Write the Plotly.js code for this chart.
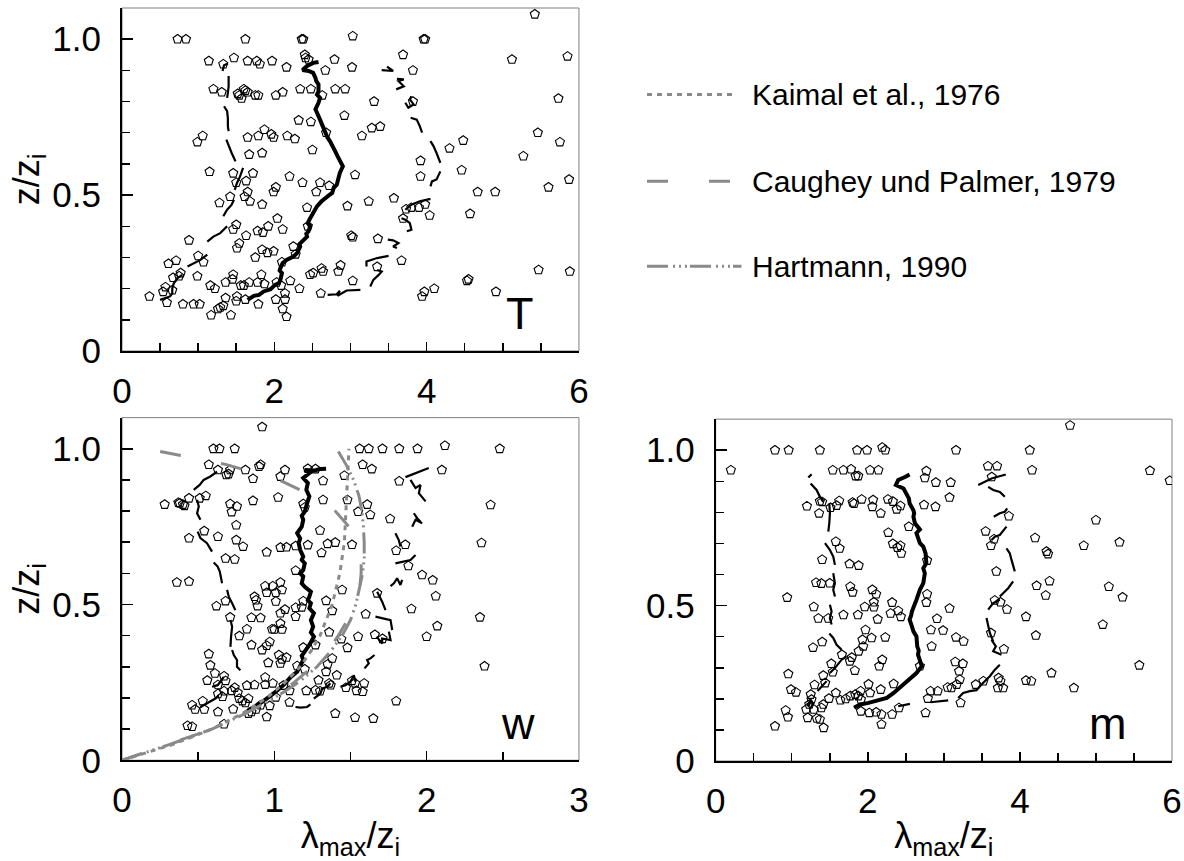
<!DOCTYPE html>
<html>
<head>
<meta charset="utf-8">
<script src="https://cdn.plot.ly/plotly-3.0.1.min.js"></script>
<style>
  html, body { margin: 0; padding: 0; background: #ffffff; }
  #chart { width: 1184px; height: 861px; }
</style>
</head>
<body>
<div id="chart"></div>
<script>
// ---------- Spectral peak wavelength lambda_max / z_i versus height z / z_i ----------

// Axis tick positions and labels (labelled major ticks, unlabelled minor ticks)
const zMajor = [0, 0.5, 1.0];
const zMajorText = ['0', '0.5', '1.0'];
const zMinor = [0.1, 0.2, 0.3, 0.4, 0.6, 0.7, 0.8, 0.9];
const lambdaMajor6 = [0, 2, 4, 6];
const lambdaMajorText6 = ['0', '2', '4', '6'];
const lambdaMinor6 = [0.5, 1, 1.5, 2.5, 3, 3.5, 4.5, 5, 5.5];
const lambdaMajor3 = [0, 1, 2, 3];
const lambdaMajorText3 = ['0', '1', '2', '3'];
const lambdaMinor3 = [0.5, 1.5, 2.5];

// ---------- Temperature (T) ----------
const tPoints = [
  [0.73,1.00],[0.84,1.00],[1.62,1.00],[2.36,1.00],[2.38,1.00],[3.96,1.00],[3.98,1.00],[3.03,1.01],[5.42,1.08],
  [1.14,0.93],[1.33,0.92],[1.47,0.94],[1.65,0.93],[1.77,0.93],[1.81,0.92],[1.97,0.93],[2.16,0.91],[2.40,0.95],
  [2.41,0.94],[2.45,0.935],[2.67,0.90],[2.79,0.935],[3.02,0.91],[3.69,0.95],[3.82,0.90],[5.12,0.935],[5.85,0.945],
  [1.20,0.84],[1.31,0.83],[1.52,0.825],[1.54,0.82],[1.57,0.81],[1.60,0.84],[1.62,0.835],[1.65,0.83],[1.75,0.82],
  [1.79,0.82],[2.02,0.82],[2.11,0.83],[2.34,0.84],[2.48,0.84],[2.63,0.82],[2.80,0.84],[2.93,0.84],[3.31,0.80],
  [3.82,0.80],[5.73,0.81],[2.32,0.74],[2.48,0.735],[2.92,0.755],[3.15,0.69],[3.28,0.715],[3.39,0.72],[5.46,0.70],
  [5.75,0.67],[0.99,0.67],[1.06,0.69],[1.65,0.685],[1.79,0.69],[1.87,0.71],[1.96,0.695],[1.99,0.685],[2.17,0.69],
  [2.27,0.68],[2.68,0.70],[4.48,0.675],[4.30,0.65],[1.67,0.63],[1.84,0.635],[2.50,0.645],[5.27,0.625],[3.92,0.61],
  [1.15,0.575],[1.46,0.57],[1.50,0.54],[1.63,0.545],[1.72,0.57],[2.20,0.56],[3.06,0.565],[3.92,0.56],[4.46,0.58],
  [5.87,0.55],[5.60,0.525],[2.37,0.54],[2.60,0.54],[2.72,0.53],[2.55,0.51],[1.99,0.51],[2.02,0.525],[1.65,0.51],
  [1.61,0.495],[1.68,0.48],[1.42,0.495],[1.28,0.475],[1.84,0.47],[2.43,0.46],[2.96,0.465],[3.24,0.48],[3.57,0.49],
  [3.73,0.455],[3.80,0.46],[3.90,0.46],[3.98,0.47],[4.04,0.435],[4.67,0.51],[4.90,0.51],[4.57,0.44],[2.04,0.425],
  [1.50,0.405],[1.46,0.39],[1.78,0.385],[1.85,0.38],[1.92,0.40],[2.11,0.39],[2.44,0.40],[1.63,0.37],[1.54,0.345],
  [1.51,0.33],[0.88,0.355],[2.25,0.335],[3.01,0.37],[3.03,0.365],[3.36,0.36],[3.69,0.425],[1.84,0.325],[1.91,0.315],
  [1.99,0.32],[1.75,0.30],[1.00,0.305],[1.07,0.285],[0.71,0.29],[0.61,0.28],[3.67,0.29],[2.10,0.285],[2.28,0.31],
  [0.99,0.24],[0.77,0.25],[0.75,0.24],[0.67,0.235],[1.46,0.245],[1.45,0.23],[1.36,0.22],[1.16,0.21],[1.22,0.20],
  [1.56,0.21],[1.60,0.21],[1.67,0.22],[1.78,0.22],[1.87,0.215],[1.83,0.245],[2.09,0.21],[2.03,0.22],[2.21,0.225],
  [2.33,0.20],[2.47,0.245],[2.51,0.25],[2.62,0.265],[2.64,0.255],[2.84,0.255],[2.87,0.275],[3.03,0.225],[3.35,0.27],
  [5.47,0.26],[5.88,0.255],[4.53,0.225],[4.55,0.23],[0.57,0.205],[0.54,0.19],[0.66,0.195],[4.10,0.20],[3.97,0.19],
  [0.36,0.175],[0.59,0.155],[0.80,0.15],[0.94,0.15],[1.02,0.15],[1.36,0.17],[1.50,0.16],[1.51,0.175],[1.62,0.165],
  [1.79,0.15],[2.02,0.165],[2.14,0.165],[2.14,0.185],[2.11,0.135],[2.16,0.11],[1.17,0.115],[1.26,0.135],[1.29,0.14],
  [1.33,0.145],[1.43,0.115],[2.61,0.185],[3.94,0.175],[4.91,0.19]
];
const tMedian = [
  [1.65,0.164],[1.73,0.177],[1.80,0.180],[1.86,0.191],[1.95,0.198],[2.01,0.212],[2.06,0.218],[2.08,0.228],[2.10,0.250],
  [2.07,0.258],[2.08,0.266],[2.11,0.282],[2.16,0.292],[2.25,0.303],[2.30,0.314],[2.34,0.335],[2.33,0.343],[2.36,0.351],
  [2.43,0.367],[2.42,0.376],[2.45,0.384],[2.47,0.400],[2.44,0.410],[2.46,0.421],[2.51,0.442],[2.54,0.452],[2.56,0.464],
  [2.62,0.480],[2.69,0.496],[2.72,0.500],[2.76,0.507],[2.78,0.523],[2.82,0.533],[2.84,0.550],[2.86,0.571],[2.90,0.592],
  [2.86,0.608],[2.83,0.625],[2.80,0.640],[2.78,0.651],[2.73,0.673],[2.70,0.684],[2.68,0.694],[2.65,0.716],[2.62,0.730],
  [2.60,0.742],[2.57,0.758],[2.54,0.775],[2.58,0.796],[2.60,0.812],[2.56,0.822],[2.58,0.833],[2.58,0.855],[2.55,0.866],
  [2.54,0.876],[2.51,0.892],[2.45,0.898],[2.37,0.901],[2.43,0.914],[2.51,0.924],[2.58,0.927]
];
const tLower = [
  [[0.50,0.164],[0.57,0.171],[0.63,0.175],[0.66,0.185],[0.66,0.201],[0.68,0.217],[0.73,0.234],[0.79,0.244]],
  [[0.86,0.271],[0.94,0.282],[1.03,0.292],[1.12,0.309]],
  [[1.12,0.351],[1.20,0.367],[1.29,0.378],[1.38,0.400]],
  [[1.33,0.432],[1.38,0.453],[1.44,0.469],[1.47,0.485]],
  [[1.48,0.517],[1.51,0.539],[1.55,0.560],[1.59,0.587]],
  [[1.37,0.678],[1.40,0.657],[1.44,0.635],[1.47,0.619],[1.49,0.608]],
  [[1.34,0.785],[1.38,0.769],[1.39,0.748],[1.39,0.721],[1.40,0.705]],
  [[1.40,0.882],[1.40,0.849],[1.39,0.828],[1.38,0.812]],
  [[1.32,0.898],[1.34,0.916],[1.39,0.922]]
];
const tUpper = [
  [[2.70,0.180],[2.82,0.182],[2.86,0.193],[2.83,0.177],[2.95,0.194],[3.13,0.196]],
  [[3.26,0.207],[3.30,0.228],[3.37,0.244],[3.41,0.255],[3.35,0.260]],
  [[3.21,0.271],[3.21,0.287],[3.35,0.298],[3.50,0.305]],
  [[3.49,0.357],[3.56,0.355],[3.63,0.346],[3.56,0.335],[3.61,0.330]],
  [[3.67,0.426],[3.72,0.421],[3.78,0.410],[3.80,0.389],[3.74,0.384]],
  [[3.72,0.453],[3.80,0.469],[3.91,0.480],[4.05,0.488]],
  [[4.05,0.528],[4.07,0.544],[4.13,0.550],[4.18,0.576]],
  [[4.05,0.673],[4.09,0.657],[4.13,0.635],[4.18,0.603]],
  [[3.79,0.748],[3.87,0.742],[3.91,0.721],[3.94,0.700]],
  [[3.72,0.796],[3.76,0.780],[3.83,0.791],[3.78,0.807],[3.80,0.817]],
  [[3.60,0.839],[3.70,0.849],[3.63,0.866],[3.70,0.871],[3.61,0.873]],
  [[3.41,0.901],[3.56,0.898],[3.48,0.912]]
];

// ---------- Vertical velocity (w) ----------
const wPoints = [
  [0.92,1.07],[0.60,1.00],[0.64,1.00],[0.74,1.00],[1.56,1.00],[1.62,1.00],[1.71,1.00],[1.82,1.00],[1.94,1.00],
  [2.48,1.00],[2.12,1.01],
  [0.57,0.949],[0.63,0.932],[0.685,0.916],[0.70,0.919],[0.71,0.932],[0.81,0.932],[0.86,0.904],[0.90,0.943],
  [0.91,0.949],[1.07,0.932],[1.04,0.911],[1.22,0.936],[1.27,0.935],[1.32,0.897],[1.46,0.914],[1.58,0.949],
  [1.64,0.935],[1.82,0.896],[2.10,0.932],
  [0.28,0.821],[0.37,0.827],[0.38,0.825],[0.40,0.821],[0.41,0.817],[0.44,0.841],[0.51,0.841],[0.55,0.849],
  [0.71,0.823],[0.755,0.815],[0.72,0.797],[0.86,0.833],[1.025,0.844],[1.19,0.823],[1.20,0.812],[1.32,0.836],
  [1.48,0.836],[1.55,0.798],[1.61,0.821],[1.63,0.788],[1.76,0.775],[2.42,0.820],
  [0.75,0.755],[0.54,0.736],[0.63,0.718],[0.44,0.713],[0.75,0.707],[0.795,0.686],[1.04,0.683],[1.08,0.684],
  [1.14,0.688],[1.22,0.691],[0.95,0.668],[1.30,0.738],[1.35,0.695],[1.40,0.699],[1.31,0.666],[1.51,0.692],
  [1.80,0.673],[1.86,0.692],[2.36,0.698],
  [0.68,0.648],[0.74,0.645],[1.14,0.609],[1.445,0.547],[1.97,0.595],[2.04,0.578],[1.88,0.624],[0.36,0.571],
  [0.44,0.574],[0.94,0.559],[0.99,0.559],[1.04,0.571],[1.05,0.547],[0.95,0.538],[1.01,0.538],[0.87,0.525],
  [0.88,0.514],[1.675,0.536],
  [0.62,0.495],[0.68,0.511],[0.89,0.495],[1.01,0.510],[1.07,0.484],[1.14,0.490],[1.19,0.511],[1.18,0.491],
  [1.14,0.461],[1.34,0.512],[1.38,0.480],[1.90,0.486],[2.06,0.527],[2.35,0.459],[0.71,0.459],[0.85,0.458],
  [0.91,0.457],[1.04,0.472],[1.60,0.469],
  [0.82,0.421],[0.985,0.421],[1.00,0.420],[1.04,0.439],[1.05,0.420],[0.77,0.399],[1.36,0.411],[1.55,0.397],
  [1.66,0.403],[1.71,0.390],[2.07,0.431],[2.00,0.397],
  [0.85,0.370],[0.97,0.380],[0.95,0.368],[0.92,0.354],[1.03,0.338],[1.05,0.324],[1.08,0.330],[1.04,0.311],
  [0.96,0.313],[0.57,0.341],[0.58,0.305],[1.19,0.362],[1.27,0.370],[1.44,0.389],[1.48,0.361],[1.38,0.327],
  [1.35,0.308],[1.15,0.303],[2.38,0.302],
  [0.61,0.279],[0.56,0.256],[0.67,0.270],[0.68,0.255],[0.63,0.242],[0.74,0.233],[0.76,0.217],[0.82,0.240],
  [0.87,0.242],[0.94,0.266],[0.94,0.243],[0.99,0.247],[1.06,0.240],[1.10,0.223],[1.20,0.292],[1.34,0.284],
  [1.41,0.273],[1.29,0.257],[1.21,0.223],[1.27,0.225],[1.30,0.222],[1.36,0.247],[1.37,0.241],[1.47,0.233],
  [1.51,0.255],[1.53,0.247],[1.59,0.247],[1.54,0.223],[1.58,0.220],[0.77,0.198],[0.79,0.190],[0.81,0.184],
  [0.83,0.198],[0.72,0.223],[0.67,0.222],[0.63,0.213],[0.66,0.204],
  [0.46,0.177],[0.48,0.163],[0.53,0.190],[0.54,0.163],[0.63,0.155],[0.73,0.164],[0.83,0.150],[0.85,0.155],
  [0.88,0.163],[0.91,0.177],[0.97,0.175],[1.01,0.202],[1.10,0.186],[0.95,0.139],[1.40,0.150],[1.53,0.137],
  [1.65,0.134],[1.80,0.190],[0.43,0.111],[0.46,0.108],[0.67,0.116]
];
const wMedian = [
  [0.83,0.161],[0.89,0.177],[0.95,0.198],[0.98,0.208],[1.01,0.220],[1.06,0.241],[1.11,0.268],[1.15,0.284],[1.17,0.300],
  [1.19,0.322],[1.18,0.335],[1.20,0.348],[1.23,0.370],[1.26,0.397],[1.24,0.410],[1.255,0.429],[1.24,0.450],[1.26,0.472],
  [1.23,0.488],[1.24,0.504],[1.22,0.514],[1.23,0.525],[1.24,0.541],[1.20,0.557],[1.18,0.568],[1.19,0.590],[1.17,0.600],
  [1.19,0.611],[1.20,0.632],[1.18,0.643],[1.19,0.654],[1.17,0.675],[1.16,0.697],[1.17,0.712],[1.15,0.729],[1.18,0.750],
  [1.19,0.772],[1.18,0.785],[1.20,0.798],[1.215,0.825],[1.23,0.847],[1.21,0.868],[1.22,0.890],[1.19,0.906],[1.23,0.922],
  [1.20,0.932],[1.26,0.930],[1.30,0.935],[1.34,0.936]
];
const wLower = [
  [[0.515,0.171],[0.558,0.182],[0.613,0.198],[0.635,0.209]],
  [[0.591,0.236],[0.628,0.241],[0.646,0.252],[0.668,0.268]],
  [[0.723,0.354],[0.734,0.338],[0.755,0.322],[0.755,0.300],[0.777,0.289]],
  [[0.712,0.450],[0.723,0.429],[0.716,0.397],[0.712,0.364]],
  [[0.690,0.547],[0.701,0.525],[0.723,0.504],[0.744,0.482]],
  [[0.602,0.635],[0.628,0.622],[0.642,0.606],[0.657,0.568]],
  [[0.497,0.734],[0.515,0.713],[0.558,0.697],[0.591,0.670]],
  [[0.493,0.836],[0.504,0.815],[0.493,0.793],[0.515,0.772]],
  [[0.471,0.868],[0.510,0.884],[0.536,0.900],[0.580,0.911],[0.624,0.927]]
];
const wUpper = [
  [[1.139,0.171],[1.171,0.169],[1.215,0.171],[1.237,0.179]],
  [[1.259,0.198],[1.303,0.214],[1.314,0.230],[1.347,0.236],[1.368,0.247]],
  [[1.434,0.236],[1.467,0.241],[1.500,0.252],[1.522,0.273],[1.533,0.252]],
  [[1.592,0.295],[1.620,0.311],[1.609,0.322],[1.631,0.327],[1.658,0.338]],
  [[1.671,0.397],[1.708,0.375],[1.708,0.391],[1.763,0.386],[1.752,0.413]],
  [[1.664,0.461],[1.719,0.456],[1.763,0.450],[1.774,0.418]],
  [[1.675,0.541],[1.693,0.525],[1.708,0.509],[1.730,0.482]],
  [[1.763,0.559],[1.785,0.568],[1.806,0.584],[1.828,0.563],[1.839,0.579]],
  [[1.795,0.632],[1.839,0.638],[1.894,0.643],[1.927,0.659]],
  [[1.795,0.729],[1.817,0.707],[1.828,0.686]],
  [[1.905,0.750],[1.927,0.772],[1.971,0.761]],
  [[1.916,0.793],[1.938,0.777],[1.960,0.766]],
  [[1.861,0.909],[1.938,0.924],[2.014,0.938]],
  [[1.894,0.900],[1.927,0.874],[1.960,0.884],[1.949,0.857],[1.993,0.831]]
];

// Reference profiles for w
const kaimal = [
  [0,0],[0.33,0.05],[0.59,0.10],[0.79,0.15],[0.95,0.20],[1.07,0.25],[1.17,0.30],[1.24,0.35],[1.30,0.40],
  [1.38,0.50],[1.43,0.60],[1.46,0.70],[1.47,0.80],[1.48,0.90],[1.49,1.00]
];
const caughey = [
  [0,0],[0.30,0.05],[0.59,0.10],[0.81,0.15],[0.99,0.20],[1.13,0.25],[1.25,0.30],[1.35,0.35],[1.42,0.40],
  [1.48,0.45],[1.53,0.50],[1.56,0.55],[1.57,0.60],[1.57,0.65],[1.55,0.70],[1.49,0.75],[1.40,0.80],
  [1.25,0.85],[1.03,0.90],[0.68,0.95],[0.16,1.00]
];
const hartmann = [
  [0,0],[0.31,0.05],[0.59,0.10],[0.81,0.15],[1.00,0.20],[1.16,0.25],[1.28,0.30],[1.37,0.35],[1.445,0.40],
  [1.50,0.45],[1.535,0.50],[1.56,0.55],[1.58,0.60],[1.59,0.65],[1.59,0.70],[1.585,0.75],[1.575,0.80],
  [1.555,0.85],[1.52,0.90],[1.47,0.95],[1.41,1.00]
];
const refNames = ['Kaimal et al., 1976', 'Caughey und Palmer, 1979', 'Hartmann, 1990'];

// ---------- Horizontal wind (m) ----------
const mPoints = [
  [4.66,1.08],[0.78,1.00],[0.96,1.00],[1.37,1.00],[1.86,1.00],[1.99,1.00],[2.19,1.009],[2.23,1.00],[3.16,1.00],
  [4.13,1.00],
  [0.20,0.936],[1.54,0.936],[1.68,0.936],[1.78,0.939],[1.84,0.917],[1.875,0.917],[2.03,0.936],[2.14,0.936],
  [2.77,0.933],[2.75,0.911],[2.895,0.896],[3.09,0.896],[3.58,0.949],[3.70,0.949],[3.63,0.914],[4.16,0.936],
  [5.71,0.934],[5.97,0.902],
  [1.20,0.820],[1.37,0.836],[1.40,0.834],[1.36,0.797],[1.51,0.815],[1.59,0.822],[1.625,0.837],[1.80,0.832],
  [1.82,0.828],[1.92,0.842],[2.07,0.840],[2.06,0.818],[2.17,0.797],[2.265,0.842],[2.33,0.835],[2.38,0.810],
  [2.43,0.821],[2.74,0.824],[2.89,0.818],[3.075,0.848],[3.855,0.788],[5.00,0.775],
  [2.54,0.754],[2.27,0.735],[1.58,0.706],[1.63,0.684],[2.33,0.699],[2.39,0.687],[2.43,0.693],[2.44,0.668],
  [3.55,0.739],[3.66,0.714],[3.62,0.693],[4.20,0.718],[4.35,0.674],[4.37,0.666],[4.84,0.693],[5.31,0.704],
  [1.40,0.648],[1.76,0.634],[1.88,0.629],[2.78,0.645],
  [1.32,0.574],[1.39,0.571],[1.50,0.572],[1.77,0.561],[1.80,0.543],[2.06,0.551],[2.11,0.537],[2.08,0.511],
  [2.32,0.510],[2.78,0.537],[2.77,0.510],[3.69,0.610],[4.22,0.564],[4.39,0.579],[4.34,0.533],[5.17,0.561],
  [5.35,0.527],[0.94,0.526],[1.29,0.496],[1.35,0.459],[1.48,0.459],[1.68,0.470],[1.87,0.470],[1.96,0.496],
  [2.08,0.495],[2.13,0.456],[2.30,0.475],[2.40,0.483],[2.435,0.464],[2.91,0.458],[3.075,0.491],[3.67,0.517],
  [3.745,0.511],[3.83,0.488],[4.08,0.464],[5.09,0.439],
  [1.97,0.422],[2.05,0.396],[2.23,0.398],[1.93,0.390],[1.94,0.369],[1.88,0.353],[1.40,0.383],[1.28,0.365],
  [2.83,0.422],[2.99,0.420],[3.16,0.398],[3.26,0.385],[2.84,0.369],[3.62,0.412],[3.79,0.360],[4.21,0.404],
  [1.66,0.342],[1.79,0.333],[1.765,0.321],[1.52,0.313],[1.54,0.286],[1.83,0.291],[2.19,0.326],[2.15,0.305],
  [3.15,0.319],[3.25,0.313],[3.20,0.289],[2.685,0.305],[5.57,0.308],[4.415,0.283],[0.955,0.280],
  [1.30,0.245],[1.415,0.275],[1.44,0.251],[0.99,0.230],[1.056,0.221],[1.25,0.214],[1.26,0.198],[1.58,0.219],
  [1.49,0.201],[1.64,0.196],[1.71,0.200],[1.77,0.209],[1.835,0.214],[1.875,0.209],[1.905,0.225],[2.01,0.247],
  [2.03,0.219],[1.91,0.198],[2.17,0.230],[2.34,0.248],[2.825,0.225],[2.92,0.225],[3.05,0.237],[3.10,0.235],
  [3.17,0.246],[3.21,0.262],[3.42,0.246],[3.52,0.257],[3.72,0.267],[3.745,0.257],[3.71,0.235],[3.78,0.235],
  [4.08,0.259],[4.15,0.257],[4.71,0.235],[2.79,0.201],[2.76,0.155],[3.22,0.187],
  [1.415,0.182],[1.39,0.171],[1.29,0.166],[1.19,0.166],[1.23,0.182],[0.92,0.163],[0.95,0.141],[1.21,0.139],
  [1.33,0.137],[1.37,0.134],[1.42,0.107],[0.78,0.112],[1.91,0.160],[2.02,0.155],[2.11,0.157],[2.18,0.150],
  [2.32,0.150],[2.18,0.118],[2.41,0.171]
];
const mMedian = [
  [1.82,0.171],[1.90,0.182],[2.01,0.187],[2.12,0.193],[2.25,0.203],[2.34,0.219],[2.42,0.235],[2.55,0.262],
  [2.64,0.283],[2.71,0.305],[2.685,0.326],[2.66,0.342],[2.67,0.355],[2.65,0.369],[2.64,0.401],[2.60,0.417],[2.58,0.433],
  [2.55,0.455],[2.57,0.468],[2.58,0.481],[2.64,0.519],[2.685,0.551],[2.73,0.572],[2.75,0.604],[2.73,0.620],[2.77,0.636],
  [2.76,0.668],[2.73,0.690],[2.685,0.701],[2.66,0.717],[2.64,0.733],[2.685,0.745],[2.62,0.765],[2.60,0.786],[2.61,0.797],
  [2.60,0.807],[2.55,0.829],[2.54,0.845],[2.51,0.861],[2.47,0.877],[2.37,0.888],[2.40,0.904],[2.49,0.914],[2.55,0.922]
];
const mLower = [
  [[1.205,0.187],[1.226,0.176],[1.248,0.198],[1.275,0.187],[1.262,0.171]],
  [[1.340,0.225],[1.380,0.235],[1.415,0.246],[1.459,0.257]],
  [[1.502,0.283],[1.568,0.299],[1.656,0.326],[1.721,0.337]],
  [[1.494,0.410],[1.546,0.396],[1.590,0.374],[1.656,0.358]],
  [[1.502,0.503],[1.524,0.481],[1.502,0.460],[1.524,0.439]],
  [[1.546,0.604],[1.568,0.572],[1.546,0.551],[1.568,0.529]],
  [[1.437,0.701],[1.502,0.679],[1.546,0.658],[1.568,0.631]],
  [[1.494,0.829],[1.502,0.797],[1.494,0.765],[1.481,0.738]],
  [[1.248,0.893],[1.327,0.872],[1.371,0.850],[1.415,0.834]],
  [[1.218,0.912],[1.262,0.923]]
];
const mUpper = [
  [[2.400,0.176],[2.554,0.184]],
  [[2.825,0.189],[3.057,0.195]],
  [[3.189,0.203],[3.254,0.219],[3.342,0.225],[3.430,0.228],[3.495,0.246],[3.605,0.273],[3.671,0.294],[3.736,0.310]],
  [[3.627,0.390],[3.684,0.369],[3.649,0.353],[3.758,0.342]],
  [[3.561,0.460],[3.583,0.433],[3.605,0.412],[3.649,0.385]],
  [[3.583,0.487],[3.649,0.508],[3.736,0.519]],
  [[3.736,0.529],[3.802,0.545],[3.846,0.556],[3.911,0.578]],
  [[3.824,0.684],[3.868,0.668],[3.890,0.647],[3.933,0.610]],
  [[3.627,0.711],[3.671,0.722],[3.736,0.727],[3.824,0.754]],
  [[3.657,0.786],[3.736,0.797],[3.802,0.802],[3.833,0.813]],
  [[3.583,0.882],[3.649,0.872],[3.736,0.866],[3.802,0.850]],
  [[3.452,0.888],[3.627,0.909],[3.815,0.922]]
];

// ---------- Styling ----------
const FONT = 'Liberation Sans, Arial, Helvetica, sans-serif';
const GREY = '#8a8a8a';
const refDash = ['5px,5px', '21px,41px', '21px,5px,2px,4px,2px,4px,2px,3px'];

function xs(pts) { return pts.map(p => p[0]); }
function ys(pts) { return pts.map(p => p[1]); }
function joinSegments(segs) {
  const x = [], y = [];
  segs.forEach((s, i) => {
    if (i > 0) { x.push(null); y.push(null); }
    s.forEach(p => { x.push(p[0]); y.push(p[1]); });
  });
  return { x, y };
}
function markerTrace(pts, xa, ya) {
  return {
    type: 'scatter', mode: 'markers', x: xs(pts), y: ys(pts), xaxis: xa, yaxis: ya,
    marker: { symbol: 'pentagon-open', size: 9.5, color: '#000', line: { width: 1.1, color: '#000' } },
    hoverinfo: 'skip', showlegend: false
  };
}
function bandTrace(segs, xa, ya) {
  const d = joinSegments(segs);
  return {
    type: 'scatter', mode: 'lines', x: d.x, y: d.y, xaxis: xa, yaxis: ya, connectgaps: false,
    line: { color: '#000', width: 2.2 }, hoverinfo: 'skip', showlegend: false
  };
}
function medianTrace(pts, xa, ya) {
  return {
    type: 'scatter', mode: 'lines', x: xs(pts), y: ys(pts), xaxis: xa, yaxis: ya,
    line: { color: '#000', width: 4 }, hoverinfo: 'skip', showlegend: false
  };
}
function refTrace(pts, i) {
  return {
    type: 'scatter', mode: 'lines', x: xs(pts), y: ys(pts), xaxis: 'x2', yaxis: 'y2', name: refNames[i],
    line: { color: GREY, width: 3, dash: refDash[i] }, hoverinfo: 'skip', showlegend: false
  };
}

const traces = [
  markerTrace(tPoints, 'x', 'y'), bandTrace(tLower, 'x', 'y'), bandTrace(tUpper, 'x', 'y'), medianTrace(tMedian, 'x', 'y'),
  markerTrace(wPoints, 'x2', 'y2'), bandTrace(wLower, 'x2', 'y2'), bandTrace(wUpper, 'x2', 'y2'), medianTrace(wMedian, 'x2', 'y2'),
  refTrace(kaimal, 0), refTrace(caughey, 1), refTrace(hartmann, 2),
  markerTrace(mPoints, 'x3', 'y3'), bandTrace(mLower, 'x3', 'y3'), bandTrace(mUpper, 'x3', 'y3'), medianTrace(mMedian, 'x3', 'y3')
];

const tickFont = { family: FONT, size: 35, color: '#000' };
const titleFont = { family: FONT, size: 36, color: '#000' };
const lambdaTitle = 'λ<sub>max</sub>/z<sub>i</sub>';
const zTitle = 'z/z<sub>i</sub>';

function minorTicks(vals) {
  return { tickmode: 'array', tickvals: vals, ticks: 'inside', ticklen: 8, tickwidth: 1.5, tickcolor: '#000', showgrid: false };
}
function xAxis(domain, anchor, range, vals, text, minorVals, title) {
  const ax = {
    domain, anchor, range, fixedrange: true, showgrid: false, zeroline: false,
    showline: true, linecolor: '#000', linewidth: 2, mirror: false,
    ticks: 'inside', ticklen: 9, tickwidth: 1.5, tickcolor: '#000',
    tickmode: 'array', tickvals: vals, ticktext: text, tickfont: tickFont, ticklabelstandoff: 8,
    minor: minorTicks(minorVals)
  };
  if (title) ax.title = { text: title, font: titleFont, standoff: 14 };
  return ax;
}
function yAxis(domain, anchor, title) {
  const ax = {
    domain, anchor, range: [0, 1.1], fixedrange: true, showgrid: false, zeroline: false,
    showline: true, linecolor: '#000', linewidth: 2, mirror: false,
    ticks: 'inside', ticklen: 11, tickwidth: 1.5, tickcolor: '#000',
    tickmode: 'array', tickvals: zMajor, ticktext: zMajorText, tickfont: tickFont, ticklabelstandoff: 12,
    minor: minorTicks(zMinor)
  };
  if (title) ax.title = { text: title, font: titleFont, standoff: 2 };
  return ax;
}

function frame(xa, ya) {
  return {
    type: 'rect', xref: xa + ' domain', yref: ya + ' domain', x0: 0, x1: 1, y0: 0, y1: 1,
    line: { color: '#7f7f7f', width: 1 }, layer: 'below'
  };
}

// Legend keys for the reference profiles, drawn beside the T panel
const legendRows = [0.885, 0.770, 0.657];
const legendEnds = [0.585, 0.580, 0.590];
const legendShapes = legendRows.map((y, i) => ({
  type: 'line', xref: 'paper', yref: 'paper', x0: 0.5, x1: legendEnds[i], y0: y, y1: y,
  line: { color: GREY, width: 3, dash: refDash[i] }
}));
const legendText = legendRows.map((y, i) => ({
  xref: 'paper', yref: 'paper', x: 0.598, y: y, xanchor: 'left', yanchor: 'middle',
  text: refNames[i], showarrow: false, font: { family: FONT, size: 30, color: '#000' }
}));

function panelLabel(text, xa, ya, x, y) {
  return {
    xref: xa + ' domain', yref: ya + ' domain', x, y, xanchor: 'center', yanchor: 'middle',
    text, showarrow: false, font: { family: FONT, size: 45, color: '#000' }
  };
}

const layout = {
  width: 1184, height: 861,
  margin: { l: 122, r: 12, t: 8, b: 100 },
  paper_bgcolor: '#fff', plot_bgcolor: '#fff',
  showlegend: false,
  font: { family: FONT, color: '#000' },
  xaxis: xAxis([0, 0.4352], 'y', [0, 6], lambdaMajor6, lambdaMajorText6, lambdaMinor6, null),
  yaxis: yAxis([0.5445, 1], 'x', zTitle),
  xaxis2: xAxis([0, 0.4352], 'y2', [0, 3], lambdaMajor3, lambdaMajorText3, lambdaMinor3, lambdaTitle),
  yaxis2: yAxis([0.001, 0.456], 'x2', zTitle),
  xaxis3: xAxis([0.5654, 1], 'y3', [0, 6], lambdaMajor6, lambdaMajorText6, lambdaMinor6, lambdaTitle),
  yaxis3: yAxis([0, 0.454], 'x3', null),
  shapes: [frame('x', 'y'), frame('x2', 'y2'), frame('x3', 'y3')].concat(legendShapes),
  annotations: [
    panelLabel('T', 'x', 'y', 0.870, 0.1085),
    panelLabel('w', 'x2', 'y2', 0.866, 0.1087),
    panelLabel('m', 'x3', 'y3', 0.860, 0.110)
  ].concat(legendText)
};

Plotly.newPlot('chart', traces, layout, { displayModeBar: false, staticPlot: true });
</script>
</body>
</html>
